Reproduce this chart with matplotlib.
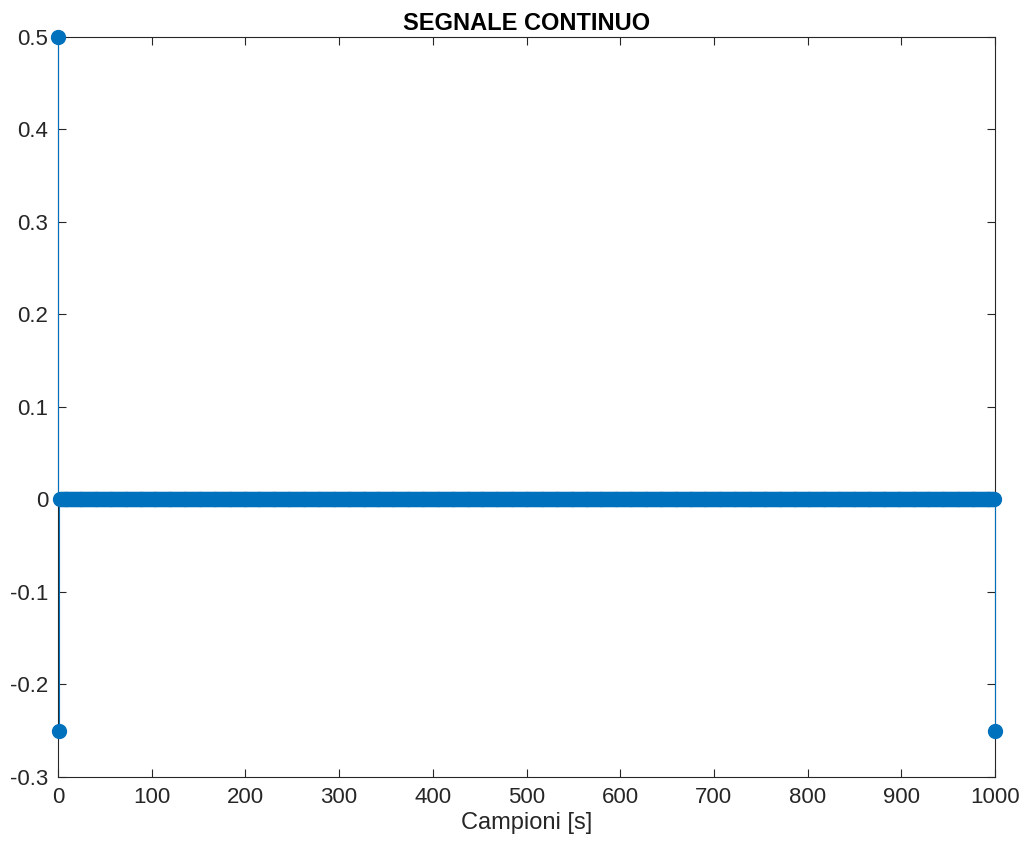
import numpy as np
import matplotlib
matplotlib.use("Agg")
import matplotlib.pyplot as plt

plt.rcParams['font.family'] = ['Liberation Sans', 'DejaVu Sans']

# campioni del segnale: quasi tutti nulli, tranne i primi e l'ultimo
n = np.arange(0, 1001)
y = np.zeros(len(n))
y[0] = 0.5
y[1] = -0.25
y[1000] = -0.25

blu = '#0072BD'
grigio = '#262626'

fig = plt.figure(figsize=(10.22, 8.46), dpi=100)
ax = fig.add_axes([0.0568, 0.0816, 0.9168, 0.8747])

markerline, stemlines, baseline = ax.stem(n, y, basefmt=' ')
plt.setp(stemlines, color=blu, linewidth=0.8, zorder=4, clip_on=False)
plt.setp(markerline, color=blu, marker='o', markersize=10, zorder=5, clip_on=False)

ax.set_xlim(0, 1000)
ax.set_ylim(-0.3, 0.5)
ax.set_xticks(np.arange(0, 1001, 100))
ax.set_yticks(np.arange(-0.3, 0.51, 0.1))
ax.set_yticklabels(['-0.3', '-0.2', '-0.1', '0', '0.1', '0.2', '0.3', '0.4', '0.5'])

ax.tick_params(direction='in', top=True, right=True, length=6, width=0.8,
               labelsize=16, colors=grigio, pad=7)
for s in ax.spines.values():
    s.set_color(grigio)
    s.set_linewidth(0.8)

ax.set_title('SEGNALE CONTINUO', fontsize=17, fontweight='bold', pad=5)
ax.set_xlabel('Campioni [s]', fontsize=17, color=grigio, labelpad=3)

fig.savefig('out.png', dpi=100)
